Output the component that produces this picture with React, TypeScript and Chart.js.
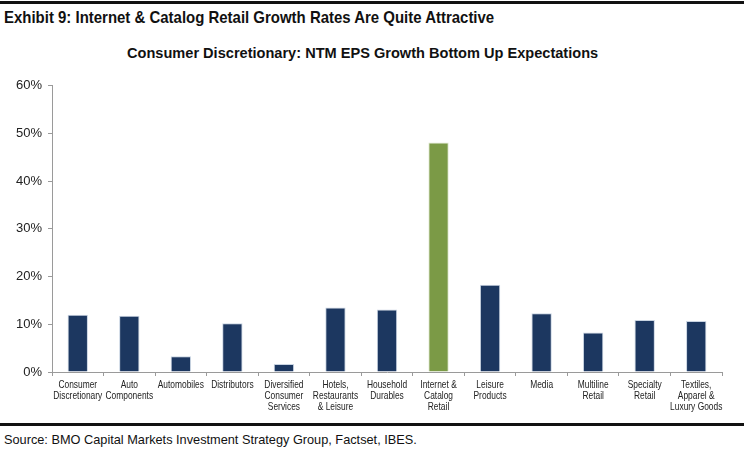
import React, { useEffect, useRef } from "react";
import { Chart, registerables } from "chart.js";

Chart.register(...registerables);

const categories: string[][] = [
  ["Consumer", "Discretionary"],
  ["Auto", "Components"],
  ["Automobiles"],
  ["Distributors"],
  ["Diversified", "Consumer", "Services"],
  ["Hotels,", "Restaurants", "& Leisure"],
  ["Household", "Durables"],
  ["Internet &", "Catalog", "Retail"],
  ["Leisure", "Products"],
  ["Media"],
  ["Multiline", "Retail"],
  ["Specialty", "Retail"],
  ["Textiles,", "Apparel &", "Luxury Goods"],
];

const growthValues: number[] = [12.0, 11.8, 3.3, 10.2, 1.7, 13.5, 13.1, 48.1, 18.3, 12.3, 8.3, 10.9, 10.7];

const highlightIndex = 7;

const yTicks: number[] = [0, 10, 20, 30, 40, 50, 60];

const NAVY = "#1c3760";
const GREEN = "#7b9a46";
const FONT = "'Liberation Sans', Arial, sans-serif";

const narrowLabels = {
  id: "narrowLabels",
  afterDraw(chart: any) {
    const xs = chart.scales.x;
    const ctx = chart.ctx as CanvasRenderingContext2D;
    ctx.save();
    ctx.font = `10.5px ${FONT}`;
    ctx.fillStyle = "#222";
    ctx.textAlign = "center";
    ctx.textBaseline = "middle";
    categories.forEach((lines, i) => {
      const x = xs.getPixelForValue(i);
      lines.forEach((t, j) => {
        ctx.save();
        ctx.translate(x, xs.top + 13 + j * 11);
        ctx.scale(0.8, 1);
        ctx.fillText(t, 0, 0);
        ctx.restore();
      });
    });
    ctx.restore();
  },
};

export default function App() {
  const canvasRef = useRef<HTMLCanvasElement | null>(null);

  useEffect(() => {
    document.body.style.margin = "0";
    const ctx = canvasRef.current;
    if (!ctx) return;
    const chart = new Chart(ctx, {
      type: "bar",
      data: {
        labels: categories.map((c) => c.join(" ")),
        datasets: [
          {
            data: growthValues,
            backgroundColor: growthValues.map((_, i) => (i === highlightIndex ? GREEN : NAVY)),
            borderColor: growthValues.map((_, i) => (i === highlightIndex ? "#dfe8cf" : "#c9d4e2")),
            borderWidth: 1,
            barPercentage: 0.79,
            categoryPercentage: 0.5,
          },
        ],
      },
      plugins: [narrowLabels],
      options: {
        responsive: false,
        animation: false,
        maintainAspectRatio: false,
        layout: { padding: { left: 0, right: 22, top: 12, bottom: 0 } },
        plugins: {
          legend: { display: false },
          tooltip: { enabled: false },
          title: { display: false },
        },
        scales: {
          x: {
            afterFit: (axis: any) => {
              axis.height = 48;
            },
            grid: {
              display: true,
              drawOnChartArea: false,
              drawTicks: true,
              tickLength: 4,
              color: "#9a9a9a",
              offset: true,
            },
            border: { display: true, color: "#9a9a9a", width: 1 },
            ticks: { display: false, autoSkip: false },
          },
          y: {
            min: 0,
            max: 60,
            afterFit: (axis: any) => {
              axis.width = 52;
            },
            afterBuildTicks: (axis: any) => {
              axis.ticks = yTicks.map((v) => ({ value: v }));
            },
            grid: {
              display: true,
              drawOnChartArea: false,
              drawTicks: true,
              tickLength: 4,
              color: "#9a9a9a",
            },
            border: { display: true, color: "#9a9a9a", width: 1 },
            ticks: {
              color: "#222",
              font: { family: FONT, size: 13 },
              padding: 6,
              callback: (v: any) => `${v}%`,
            },
          },
        },
      },
    });
    return () => chart.destroy();
  }, []);

  const narrow = (scale: number): React.CSSProperties => ({
    transform: `scaleX(${scale})`,
    transformOrigin: "left top",
  });

  return (
    <div style={{ position: "relative", width: 744, height: 454, background: "#fff", overflow: "hidden" }}>
      <div style={{ position: "absolute", left: 0, top: 1, width: 744, height: 3, background: "#111" }} />
      <div
        style={{
          position: "absolute",
          left: 4,
          top: 8,
          fontFamily: FONT,
          fontWeight: "bold",
          fontSize: 17,
          color: "#111",
          whiteSpace: "nowrap",
          ...narrow(0.88),
        }}
      >
        Exhibit 9: Internet &amp; Catalog Retail Growth Rates Are Quite Attractive
      </div>
      <div
        style={{
          position: "absolute",
          left: 127,
          top: 44,
          fontFamily: FONT,
          fontWeight: "bold",
          fontSize: 15.5,
          color: "#111",
          whiteSpace: "nowrap",
          ...narrow(0.94),
        }}
      >
        Consumer Discretionary: NTM EPS Growth Bottom Up Expectations
      </div>
      <canvas ref={canvasRef} width={744} height={348} style={{ position: "absolute", left: 0, top: 72 }} />
      <div style={{ position: "absolute", left: 0, top: 423, width: 744, height: 3, background: "#111" }} />
      <div
        style={{
          position: "absolute",
          left: 4,
          top: 432,
          fontFamily: FONT,
          fontSize: 13,
          color: "#111",
          whiteSpace: "nowrap",
          ...narrow(0.98),
        }}
      >
        Source: BMO Capital Markets Investment Strategy Group, Factset, IBES.
      </div>
    </div>
  );
}
